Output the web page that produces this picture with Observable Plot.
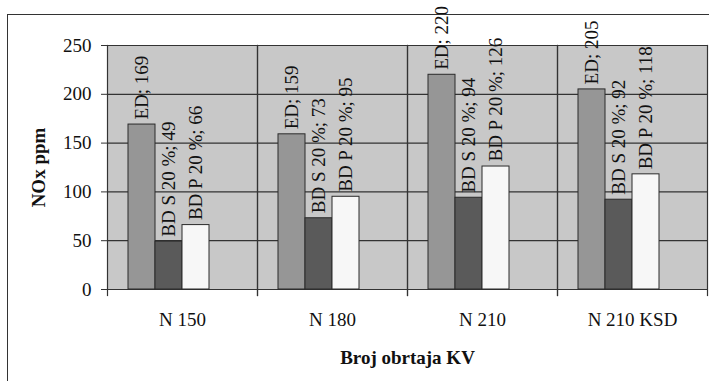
<!DOCTYPE html>
<html>
<head>
<meta charset="utf-8">
<script src="https://cdn.jsdelivr.net/npm/d3@7"></script>
<script src="https://cdn.jsdelivr.net/npm/@observablehq/plot@0.6"></script>
<style>
  html, body { margin: 0; padding: 0; background: white; }
  #wrap { position: relative; width: 709px; height: 381px; overflow: hidden; }
  #border { position: absolute; left: 7px; top: 14px; width: 720px; height: 400px; border: 1.5px solid #333; box-sizing: border-box; pointer-events: none; }
  #wrap svg, #wrap svg text { font-family: "Liberation Serif", "Times New Roman", serif !important; }
  g[aria-label="y-axis label"] text, g[aria-label="fx-axis label"] text { font-weight: bold; }
</style>
</head>
<body>
<div id="wrap"><div id="border"></div></div>
<script>
const categories = ["N 150", "N 180", "N 210", "N 210 KSD"];
const seriesNames = ["ED", "BD S 20 %", "BD P 20 %"];
const edValues = [169, 159, 220, 205];
const bdsValues = [49, 73, 94, 92];
const bdpValues = [66, 95, 126, 118];
const yTicks = [0, 50, 100, 150, 200, 250];
const seriesColors = ["#969696", "#5a5a5a", "#f7f7f7"];

const seriesValues = [edValues, bdsValues, bdpValues];
const rows = [];
categories.forEach((c, i) => {
  seriesNames.forEach((s, j) => {
    rows.push({cat: c, series: s, value: seriesValues[j][i], label: `${s}; ${seriesValues[j][i]}`});
  });
});

const chart = Plot.plot({
  width: 709,
  height: 381,
  marginLeft: 106,
  marginRight: 2,
  marginTop: 45,
  marginBottom: 92,
  style: {fontSize: "19px", color: "#111", background: "transparent"},
  fx: {domain: categories, padding: 0},
  x: {domain: [...seriesNames, " "], paddingInner: 0, paddingOuter: 0.727, axis: null},
  y: {domain: [0, 250]},
  color: {domain: seriesNames, range: seriesColors},
  marks: [
    Plot.frame({fill: "#c8c8c8", stroke: null}),
    Plot.ruleY(yTicks, {stroke: "#333", strokeWidth: 1.2}),
    Plot.frame({anchor: "left", stroke: "#333", strokeWidth: 1.2, insetBottom: -6}),
    Plot.frame({anchor: "right", stroke: "#333", strokeWidth: 1.2, insetBottom: -6}),
    Plot.barY(rows, {fx: "cat", x: "series", y: "value", fill: "series", stroke: "#2a2a2a", strokeWidth: 1}),
    Plot.text(rows, {fx: "cat", x: "series", y: "value", text: "label", rotate: -90, textAnchor: "start", lineAnchor: "middle", dy: -5, fill: "#111"}),
    Plot.axisY({ticks: yTicks, tickSize: 6, tickPadding: 10, stroke: "#333", label: "NOx ppm", labelAnchor: "center", labelOffset: 76, labelArrow: false}),
    Plot.axisFx({anchor: "bottom", tickSize: 0, tickPadding: 23, label: "Broj obrtaja KV", labelAnchor: "center", labelOffset: 74, labelArrow: false})
  ]
});
document.getElementById("wrap").prepend(chart);
</script>
</body>
</html>
